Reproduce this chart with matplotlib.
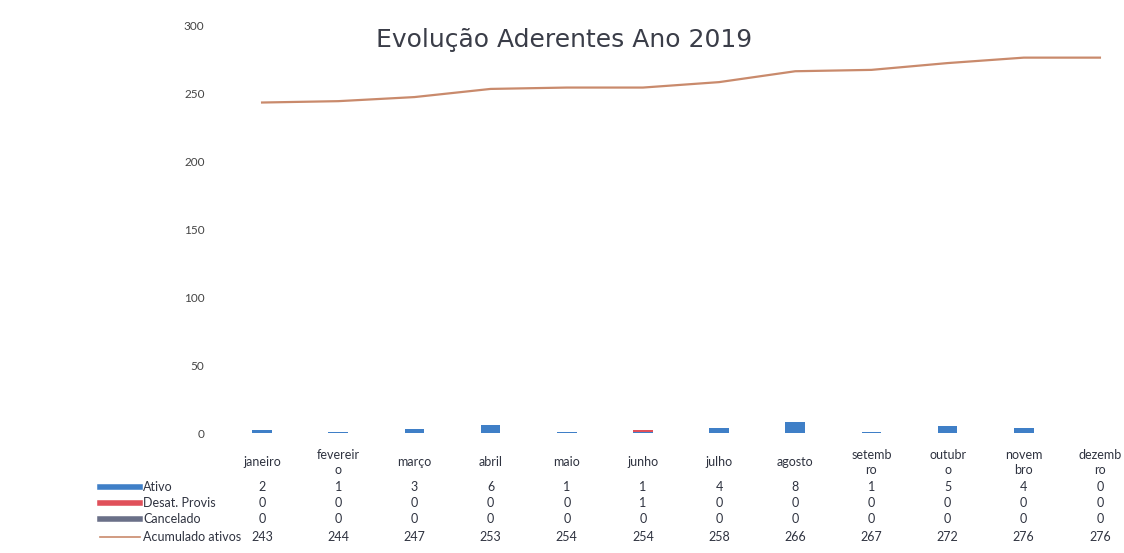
import matplotlib
matplotlib.use("Agg")
import matplotlib.pyplot as plt
from matplotlib.lines import Line2D
import numpy as np

plt.rcParams["font.family"] = ["Lato", "DejaVu Sans"]

months = ["janeiro", "fevereir\no", "março", "abril", "maio", "junho", "julho",
          "agosto", "setemb\nro", "outubr\no", "novem\nbro", "dezemb\nro"]
ativo = [2, 1, 3, 6, 1, 1, 4, 8, 1, 5, 4, 0]
desat = [0, 0, 0, 0, 0, 1, 0, 0, 0, 0, 0, 0]
cancelado = [0, 0, 0, 0, 0, 0, 0, 0, 0, 0, 0, 0]
acumulado = [243, 244, 247, 253, 254, 254, 258, 266, 267, 272, 276, 276]

c_ativo = "#3f7fc7"
c_desat = "#e0505a"
c_canc = "#6a7088"
c_acum = "#c98a6c"
txt = "#2f3340"

W, H = 1124, 553
y0, y1 = 433, 25  # pixel rows of 0 and 300
fig = plt.figure(figsize=(W / 100, H / 100), dpi=100)
ax = fig.add_axes([224 / W, 1 - y0 / H, 914 / W, (y0 - y1) / H])

x = np.arange(len(months))
ax.bar(x, ativo, width=0.26, color=c_ativo)
ax.bar(x, desat, width=0.26, bottom=ativo, color=c_desat)
ax.bar(x, cancelado, width=0.26, bottom=np.add(ativo, desat), color=c_canc)
ax.plot(x, acumulado, color=c_acum, lw=1.6)

ax.set_xlim(-0.5, 11.5)
ax.set_ylim(0, 300)
ax.set_yticks(range(0, 301, 50))
ax.tick_params(axis="y", length=0, labelsize=8.5, labelcolor="#444", pad=14)
ax.set_xticks(x)
ax.set_xticklabels(months, fontsize=9, color=txt, linespacing=1.3, va="center")
ax.tick_params(axis="x", length=0, pad=21)
for s in ax.spines.values():
    s.set_visible(False)

fig.text(376 / W, 1 - 40 / H, "Evolução Aderentes Ano 2019", fontsize=18,
         color="#3a3d48", va="center", ha="left",
         family=["DejaVu Sans"])

# data table below the chart
rows = [("Ativo", ativo, c_ativo, 4),
        ("Desat. Provis", desat, c_desat, 4),
        ("Cancelado", cancelado, c_canc, 4),
        ("Acumulado ativos", acumulado, c_acum, 1.2)]
row_y = [487, 503, 519, 537]
tr = ax.get_xaxis_transform()
for (label, vals, col, lw), py in zip(rows, row_y):
    fy = 1 - py / H
    fig.add_artist(Line2D([100 / W, 140 / W], [fy, fy], color=col, lw=lw,
                          transform=fig.transFigure))
    fig.text(143 / W, fy, label, fontsize=9, color=txt, va="center", ha="left")
    yax = (y0 - py) / float(y0 - y1)
    for xi, v in zip(x, vals):
        ax.text(xi, yax, str(v), transform=tr, fontsize=9, color=txt,
                ha="center", va="center", clip_on=False)

fig.savefig("out.png", dpi=100)
